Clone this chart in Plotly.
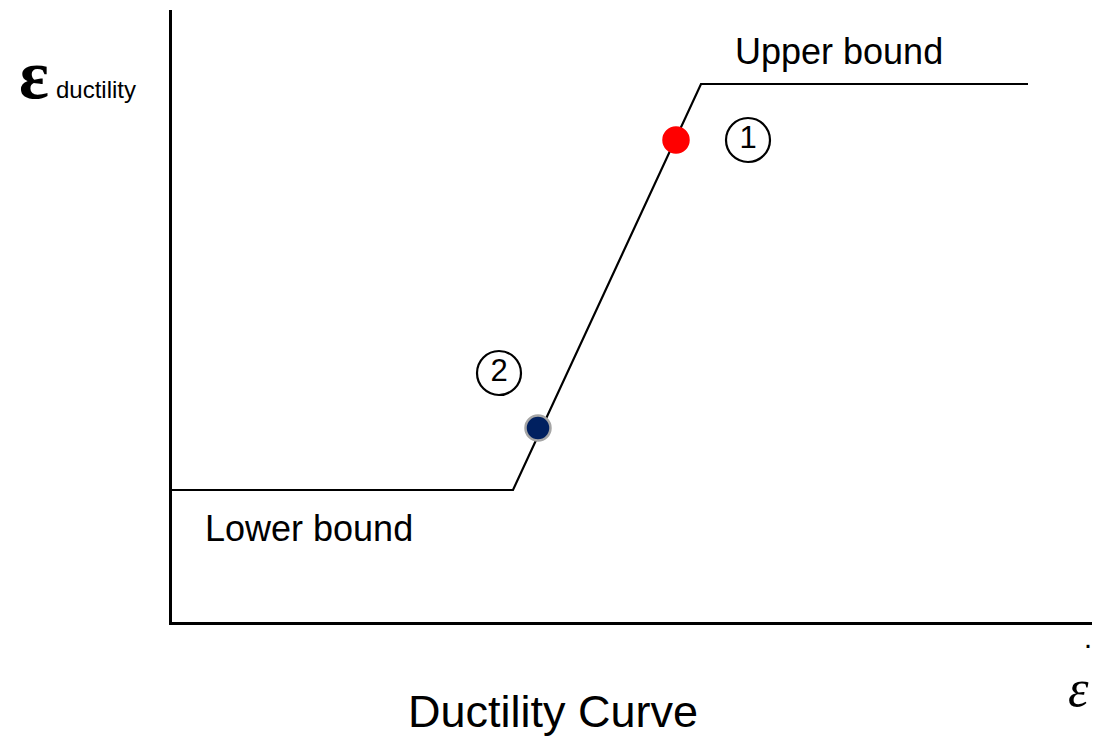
import plotly.graph_objects as go

# Ductility curve (schematic) in plot units (x: strain rate, y: ductility)
curve_x = [0, 341, 529, 856]
curve_y = [132, 132, 538, 538]

point_labels = ["1", "2"]
point_x = [504, 366]
point_y = [482, 194]
point_colors = ["#ff0000", "#002060"]
point_border = ["#ff0000", "#a6a6a6"]

label_x = [576, 327]
label_y = [482, 249]

X_MAX = 920
Y_MAX = 612

fig = go.Figure()
fig.add_trace(go.Scatter(x=curve_x, y=curve_y, mode="lines",
                         line=dict(color="black", width=2.2), hoverinfo="skip"))
fig.add_trace(go.Scatter(x=point_x, y=point_y, mode="markers",
                         marker=dict(size=25, color=point_colors,
                                     line=dict(color=point_border, width=2.5)),
                         hoverinfo="skip"))
fig.add_trace(go.Scatter(x=label_x, y=label_y, mode="markers+text",
                         text=point_labels, textposition="middle center",
                         textfont=dict(family="Liberation Sans, Arial", size=31, color="black"),
                         marker=dict(size=44, color="white",
                                     line=dict(color="black", width=2.2)),
                         hoverinfo="skip"))

font = "Liberation Sans, Arial"
serif = "Liberation Serif, Times New Roman"


def ann(x, y, text, family, size, weight="normal"):
    fig.add_annotation(xref="paper", yref="paper", x=x / X_MAX, y=y / Y_MAX,
                       text=text, showarrow=False, xanchor="center", yanchor="middle",
                       font=dict(family=family, size=size, color="black", weight=weight))


ann(667, 570, "Upper bound", font, 36)
ann(137, 94, "Lower bound", font, 36)
ann(381, -89, "Ductility Curve", font, 45)
# y-axis label: epsilon with subscript
ann(-138, 547, "ε", serif, 70, "bold")
ann(-76, 532, "ductility", font, 24)
# x-axis label: epsilon dot (strain rate)
ann(916, -21, "·", font, 30)
ann(906, -66, "<i>ε</i>", serif, 52)

fig.update_layout(
    width=1084, height=730,
    margin=dict(l=164, r=0, t=2, b=116),
    paper_bgcolor="white", plot_bgcolor="white",
    showlegend=False,
    xaxis=dict(range=[0, X_MAX], showgrid=False, zeroline=False, showticklabels=False,
               ticks="", showline=True, linecolor="black", linewidth=2.5, fixedrange=True),
    yaxis=dict(range=[0, Y_MAX], showgrid=False, zeroline=False, showticklabels=False,
               ticks="", showline=True, linecolor="black", linewidth=2.5, fixedrange=True),
)
fig.write_html("out.html")
